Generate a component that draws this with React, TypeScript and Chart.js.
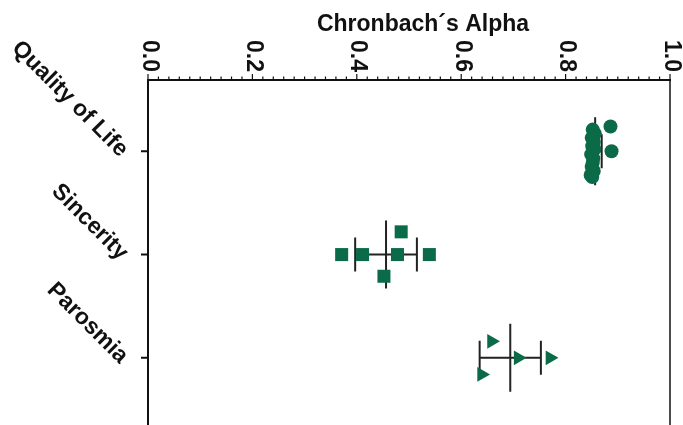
import { useEffect, useRef } from 'react';
import { Chart, registerables } from 'chart.js';

Chart.register(...registerables);

const categories = ['Quality of Life', 'Sincerity', 'Parosmia'];

const qolAlpha = [0.886, 0.888, 0.852, 0.856, 0.85, 0.854, 0.851, 0.855, 0.849, 0.853, 0.852, 0.85, 0.854, 0.848, 0.851];
const qolJitter = [-0.24, 0.0, -0.21, -0.17, -0.13, -0.09, -0.05, -0.02, 0.03, 0.07, 0.11, 0.15, 0.19, 0.23, 0.25];

const sincerityAlpha = [0.371, 0.411, 0.485, 0.478, 0.539, 0.452];
const sincerityJitter = [0, 0, -0.22, 0, 0, 0.21];

const parosmiaAlpha = [0.658, 0.709, 0.77, 0.639];
const parosmiaJitter = [-0.16, 0, 0, 0.16];

const xTickValues = [0, 0.2, 0.4, 0.6, 0.8, 1.0];
const xTickLabels = ['0.0', '0.2', '0.4', '0.6', '0.8', '1.0'];
const axisTitle = 'Chronbach\u00b4s Alpha';

const GREEN = '#0b6b48';
const FONT = 'bold 23px "Liberation Sans", Arial, sans-serif';

const groups = [qolAlpha, sincerityAlpha, parosmiaAlpha];

function meanOf(a: number[]) {
  return a.reduce((s, v) => s + v, 0) / a.length;
}
function sdOf(a: number[]) {
  const m = meanOf(a);
  return Math.sqrt(a.reduce((s, v) => s + (v - m) * (v - m), 0) / (a.length - 1));
}

const toPoints = (vals: number[], jit: number[], cat: number) =>
  vals.map((v, i) => ({ x: v, y: cat + jit[i] }));

export default function App() {
  const ref = useRef<HTMLCanvasElement>(null);

  useEffect(() => {
    document.body.style.margin = '0';
    document.body.style.overflow = 'hidden';
    const canvas = ref.current;
    if (!canvas) return;

    const errorBars = {
      id: 'errorBars',
      beforeDatasetsDraw(chart: any) {
        const { ctx, scales } = chart;
        const x = scales.x;
        const y = scales.y;
        ctx.save();
        ctx.strokeStyle = '#222';
        ctx.lineWidth = 2;
        groups.forEach((g, i) => {
          const m = meanOf(g);
          const sd = sdOf(g);
          const yp = y.getPixelForValue(i);
          const xm = x.getPixelForValue(m);
          const x1 = x.getPixelForValue(m - sd);
          const x2 = x.getPixelForValue(m + sd);
          ctx.beginPath();
          ctx.moveTo(xm, yp - 34);
          ctx.lineTo(xm, yp + 34);
          ctx.moveTo(x1, yp);
          ctx.lineTo(x2, yp);
          ctx.moveTo(x1, yp - 17);
          ctx.lineTo(x1, yp + 17);
          ctx.moveTo(x2, yp - 17);
          ctx.lineTo(x2, yp + 17);
          ctx.stroke();
        });
        ctx.restore();
      },
    };

    const axes = {
      id: 'customAxes',
      afterDraw(chart: any) {
        const { ctx, chartArea, scales } = chart;
        const x = scales.x;
        const y = scales.y;
        const { left, right, top, bottom } = chartArea;
        ctx.save();
        ctx.strokeStyle = '#111';
        ctx.fillStyle = '#111';
        ctx.lineWidth = 2;
        ctx.beginPath();
        ctx.moveTo(left - 1, top);
        ctx.lineTo(right + 1, top);
        ctx.moveTo(left, top);
        ctx.lineTo(left, bottom);
        ctx.stroke();
        ctx.lineWidth = 1.5;
        ctx.beginPath();
        ctx.moveTo(right, top);
        ctx.lineTo(right, bottom);
        ctx.stroke();
        ctx.lineWidth = 1.2;
        ctx.beginPath();
        for (let i = 0; i <= 50; i++) {
          const px = x.getPixelForValue(i * 0.02);
          const len = i % 10 === 0 ? 6 : 3.5;
          ctx.moveTo(px, top);
          ctx.lineTo(px, top - len);
        }
        ctx.stroke();
        ctx.lineWidth = 2;
        ctx.beginPath();
        categories.forEach((_, i) => {
          const yp = y.getPixelForValue(i);
          ctx.moveTo(left - 7, yp);
          ctx.lineTo(left, yp);
        });
        ctx.stroke();
        ctx.font = FONT;
        xTickValues.forEach((v, i) => {
          const px = x.getPixelForValue(v);
          ctx.save();
          ctx.translate(px + 1, top - 8);
          ctx.rotate(Math.PI / 2);
          ctx.textAlign = 'right';
          ctx.textBaseline = 'middle';
          ctx.fillText(xTickLabels[i], 0, 0);
          ctx.restore();
        });
        categories.forEach((c, i) => {
          const yp = y.getPixelForValue(i);
          ctx.save();
          ctx.translate(left - 24, yp + 2);
          ctx.rotate(Math.PI / 4);
          ctx.textAlign = 'right';
          ctx.textBaseline = 'middle';
          ctx.fillText(c, 0, 0);
          ctx.restore();
        });
        ctx.textAlign = 'center';
        ctx.textBaseline = 'middle';
        ctx.fillText(axisTitle, 423, 25);
        ctx.restore();
      },
    };

    const chart = new Chart(canvas, {
      type: 'scatter',
      data: {
        datasets: [
          {
            label: categories[0],
            data: toPoints(qolAlpha, qolJitter, 0),
            pointStyle: 'circle',
            pointRadius: 7,
            backgroundColor: GREEN,
            borderColor: GREEN,
            borderWidth: 0,
          },
          {
            label: categories[1],
            data: toPoints(sincerityAlpha, sincerityJitter, 1),
            pointStyle: 'rect',
            pointRadius: 9.2,
            backgroundColor: GREEN,
            borderColor: GREEN,
            borderWidth: 0,
          },
          {
            label: categories[2],
            data: toPoints(parosmiaAlpha, parosmiaJitter, 2),
            pointStyle: 'triangle',
            rotation: 90,
            pointRadius: 8.5,
            backgroundColor: GREEN,
            borderColor: GREEN,
            borderWidth: 0,
          } as any,
        ],
      },
      options: {
        responsive: true,
        maintainAspectRatio: false,
        animation: false,
        layout: { autoPadding: false, padding: { left: 148, right: 13, top: 80, bottom: 0 } },
        plugins: { legend: { display: false }, tooltip: { enabled: false } },
        scales: {
          x: { type: 'linear', min: 0, max: 1, display: false },
          y: { type: 'linear', min: -0.69, max: 2.65, reverse: true, display: false },
        },
      },
      plugins: [errorBars, axes],
    });

    return () => chart.destroy();
  }, []);

  return (
    <div style={{ position: 'fixed', left: 0, top: 0, width: 683, height: 425, background: '#fff' }}>
      <canvas ref={ref} />
    </div>
  );
}
